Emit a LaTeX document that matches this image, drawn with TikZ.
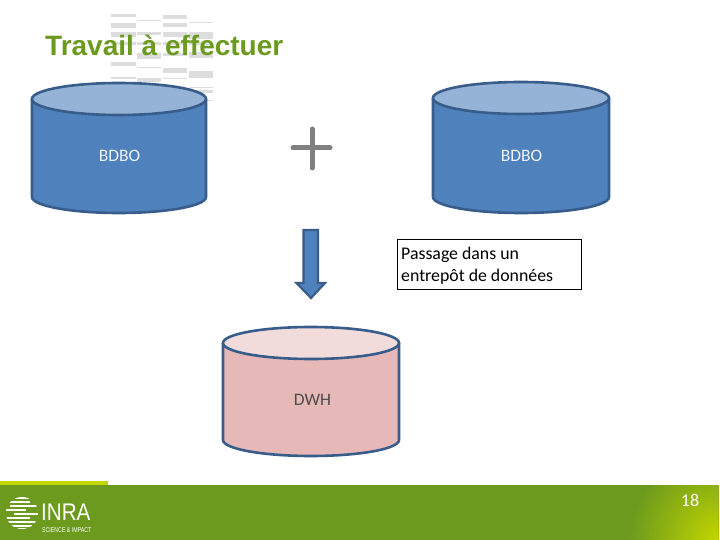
\documentclass[tikz,border=0pt]{standalone}
\usepackage{fontspec}
\setmainfont{Carlito}
\newfontfamily\titlefont{Liberation Sans}
\usetikzlibrary{calc}
\definecolor{inragreen}{HTML}{6B9A1E}
\definecolor{inralime}{HTML}{C4D600}
\definecolor{bluefill}{HTML}{4F81BD}
\definecolor{blueline}{HTML}{385D8A}
\definecolor{bluetop}{HTML}{95B3D7}
\definecolor{pinkfill}{HTML}{E6B9B8}
\definecolor{pinktop}{HTML}{F2DCDB}
\definecolor{wmgray}{HTML}{DDDDDD}
\tikzset{
	lbl/.style={font=\fontsize{17.5}{20}\selectfont, inner sep=0pt},
	notetxt/.style={anchor=base west, inner sep=0pt, font=\fontsize{17.8}{20}\selectfont, color=black},
	wmbar/.style={fill=wmgray, draw=none}
}
% cuve: (centre x, top y, bottom y, half width), fill, top fill
\def\cuve(#1,#2,#3,#4)#5#6{
	\draw[line width=2.6pt, color=blueline, fill=#5] (#1-#4, #2) -- (#1-#4, #3) arc (180:0:#4 and 16) -- (#1+#4, #2);
	\draw[line width=2.6pt, color=blueline, fill=#6] (#1, #2) ellipse (#4 and 16);
}

\begin{document}
\begin{tikzpicture}[x=1pt, y=-1pt]
		%%%%% frame %%%%%
		\useasboundingbox (0, 0) rectangle (720, 540);
		\fill[white] (0, 0) rectangle (720, 540);
		
		%%%%% watermark %%%%%
		\foreach \yy/\hh in {14/3, 23/5, 32/5, 42/3, 62/4, 77/2} {
			\fill[wmbar] (111, \yy) rectangle (136, \yy+\hh);
		}
		\foreach \yy/\hh in {20/1, 32/3, 42/3, 53/6, 67/1, 78/4, 88/1} {
			\fill[wmbar] (137, \yy) rectangle (161, \yy+\hh);
		}
		\foreach \yy/\hh in {15/4, 23/4, 32/5, 42/3, 53/3, 68/5, 78/1} {
			\fill[wmbar] (163, \yy) rectangle (187, \yy+\hh);
		}
		\foreach \yy/\hh in {22/1, 32/7, 42/3, 52/6, 71/7, 87/1, 90/3, 100/1} {
			\fill[wmbar] (189, \yy) rectangle (213, \yy+\hh);
		}
		
		\node[anchor=base west, inner sep=0pt, font=\titlefont\bfseries\fontsize{28}{32}\selectfont, color=inragreen] (titre) at (45, 56) {Travail à effectuer};
		
		%%%%% cylinders %%%%%
		\cuve(119,99,197,87){bluefill}{bluetop}
		\cuve(521,98,197,88){bluefill}{bluetop}
		\cuve(311,343,440,88){pinkfill}{pinktop}
		
		\node[lbl, color=white!90!bluefill] (bdboa) at (119.5, 156) {BDBO};
		\node[lbl, color=white!90!bluefill] (bdbob) at (521.5, 156) {BDBO};
		\node[lbl, color=black!70] (dwh) at (312.5, 400) {DWH};
		
		%%%%% plus %%%%%
		\draw[line width=5pt, color=black!50, line cap=round] (293, 148) -- (330, 148);
		\draw[line width=5pt, color=black!50, line cap=round] (312, 129) -- (312, 168);
		
		%%%%% arrow %%%%%
		\draw[line width=2.2pt, color=blueline, fill=bluefill] (303.5, 230) -- (318, 230) -- (318, 283) -- (325, 283) -- (311, 298) -- (296.5, 283) -- (303.5, 283) -- cycle;
		
		%%%%% note %%%%%
		\draw[line width=0.8pt, fill=white] (397, 239) rectangle (581, 289);
		\node[notetxt] (noteh) at (401, 259) {Passage dans un};
		\node[notetxt] (noteb) at (401, 281) {entrepôt de données};
		
		%%%%% footer %%%%%
		\fill[inralime] (0, 481) rectangle (108, 486);
		\fill[inragreen] (0, 485) rectangle (718, 540);
		\begin{scope}
			\clip (600, 485) rectangle (718, 540);
			\foreach \rr in {90, 88, ..., 2} {
				\pgfmathsetmacro{\mixval}{100-\rr*100/90}
				\fill[inralime!\mixval!inragreen] (718, 540) circle (\rr);
			}
		\end{scope}
		\node[lbl, color=white, font=\fontsize{18}{20}\selectfont] (numero) at (690, 500) {18};
		
		%%%%% logo %%%%%
		\begin{scope}
			\clip (22, 513) circle (16);
			\foreach \yy/\xa/\xb in {497/6/38, 501/6/30, 505/10/38, 509/6/26, 513/14/38, 517/6/30, 521/6/38, 525/12/32, 528/6/38} {
				\fill[white] (\xa, \yy) rectangle (\xb, \yy+2);
			}
		\end{scope}
		\node[anchor=base west, inner sep=0pt, color=white, font=\titlefont\fontsize{24}{26}\selectfont] (inra) at (41, 520.5) {\scalebox{0.86}[1]{INRA}};
		\node[anchor=base west, inner sep=0pt, color=white, font=\titlefont\fontsize{7}{8}\selectfont] (impact) at (42, 532) {\scalebox{0.75}[1]{SCIENCE \& IMPACT}};
\end{tikzpicture}
\end{document}
